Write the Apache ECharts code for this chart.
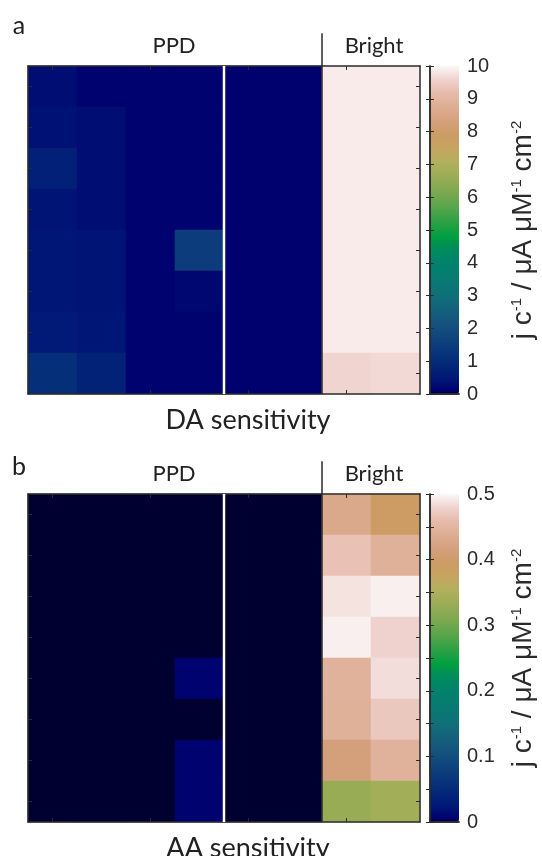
<!DOCTYPE html>
<html>
<head>
<meta charset="utf-8">
<script src="https://cdn.jsdelivr.net/npm/echarts@6/dist/echarts.min.js"></script>
<style>
  html, body { margin: 0; padding: 0; background: #fff; }
  #chart { width: 542px; height: 856px; }
</style>
</head>
<body>
<div id="chart"></div>
<script>
// categories
const colLabels = ['PPD 1', 'PPD 2', 'PPD 3', 'PPD 4', 'PPD 5', 'PPD 6', 'Bright 1', 'Bright 2']
const rowLabels = ['1', '2', '3', '4', '5', '6', '7', '8'] // top -> bottom

// DA sensitivity (rows top -> bottom)
const daPPD = [
  [0.30, 0.15, 0.15, 0.15, 0.10, 0.10],
  [0.35, 0.30, 0.15, 0.15, 0.10, 0.10],
  [0.70, 0.30, 0.15, 0.15, 0.10, 0.10],
  [0.40, 0.30, 0.15, 0.15, 0.10, 0.10],
  [0.45, 0.40, 0.15, 1.50, 0.10, 0.10],
  [0.45, 0.40, 0.15, 0.20, 0.10, 0.10],
  [0.55, 0.45, 0.15, 0.15, 0.10, 0.10],
  [1.10, 0.75, 0.15, 0.15, 0.10, 0.10]
]
const daBright = [
  [9.85, 9.85], [9.85, 9.85], [9.85, 9.85], [9.85, 9.85],
  [9.85, 9.85], [9.85, 9.85], [9.85, 9.85], [9.60, 9.65]
]

// AA sensitivity (rows top -> bottom)
const aaPPD = [
  [0, 0, 0, 0, 0, 0],
  [0, 0, 0, 0, 0, 0],
  [0, 0, 0, 0, 0, 0],
  [0, 0, 0, 0, 0, 0],
  [0, 0, 0, 0.006, 0, 0],
  [0, 0, 0, 0, 0, 0],
  [0, 0, 0, 0.006, 0, 0],
  [0, 0, 0, 0.006, 0, 0]
]
const aaBright = [
  [0.430, 0.395],
  [0.465, 0.443],
  [0.488, 0.495],
  [0.495, 0.478],
  [0.445, 0.485],
  [0.443, 0.470],
  [0.415, 0.445],
  [0.330, 0.340]
]

const daRange = [0, 10]
const aaRange = [0, 0.5]

// gist_earth-like colour map
const cmapStops = [
  [0.00, '#000030'], [0.010, '#00006e'], [0.04, '#001476'], [0.10, '#042c7a'],
  [0.15, '#0c3c7c'], [0.20, '#144e7e'], [0.25, '#145e7c'], [0.30, '#107078'],
  [0.35, '#087a72'], [0.40, '#00826c'], [0.45, '#008e58'], [0.48, '#00a040'],
  [0.52, '#28a044'], [0.56, '#50a448'], [0.61, '#78a850'], [0.66, '#98ac55'],
  [0.71, '#b4b05c'], [0.75, '#c6a460'], [0.79, '#cc9c64'], [0.83, '#d4a07c'],
  [0.87, '#dcac90'], [0.92, '#e6bcac'], [0.96, '#f0d4d0'], [1.00, '#fcf8f8']
]

function hexRgb (h) {
  return [1, 3, 5].map(i => parseInt(h.slice(i, i + 2), 16))
}
function cmapAt (t) {
  for (let i = 1; i < cmapStops.length; i++) {
    const [t1, c1] = cmapStops[i]
    const [t0, c0] = cmapStops[i - 1]
    if (t <= t1) {
      const f = (t - t0) / (t1 - t0)
      const a = hexRgb(c0)
      const b = hexRgb(c1)
      return 'rgb(' + a.map((v, k) => Math.round(v + (b[k] - v) * f)).join(',') + ')'
    }
  }
  return cmapStops[cmapStops.length - 1][1]
}
const cmapColors = []
for (let i = 0; i <= 400; i++) cmapColors.push(cmapAt(i / 400))

function heatData (ppd, bright) {
  const out = []
  rowLabels.forEach((r, ri) => {
    ppd[ri].concat(bright[ri]).forEach((v, ci) => {
      out.push([colLabels[ci], r, v])
    })
  })
  return out
}

const ink = '#2b2b2b'
const tickFont = '"Liberation Sans", Arial, sans-serif'
const textFont = 'Lato, "DejaVu Sans", sans-serif'

const grids = []
const xAxes = []
const yAxes = []
const series = []
const visualMaps = []

function addPanel (p) {
  const gHeat = grids.length
  grids.push({ left: 28, top: p.top, width: 392, height: p.height })
  const gBar = grids.length
  grids.push({ left: 430, top: p.top, width: 29, height: p.height })

  const catAxis = (pos) => ({
    gridIndex: gHeat,
    type: 'category',
    position: pos,
    z: 5,
    axisLine: { show: true, lineStyle: { color: ink, width: 1.5 } },
    axisTick: { show: true, inside: true, alignWithLabel: true, length: 4, lineStyle: { color: ink } },
    axisLabel: { show: false },
    splitLine: { show: false },
    splitArea: { show: false }
  })
  const xc = xAxes.length
  xAxes.push(Object.assign(catAxis('bottom'), { data: colLabels }))
  xAxes.push(Object.assign(catAxis('top'), { data: colLabels }))
  const xv = xAxes.length
  xAxes.push({ gridIndex: gHeat, type: 'value', min: 0, max: 8, show: false, splitLine: { show: false } })
  const yc = yAxes.length
  yAxes.push(Object.assign(catAxis('left'), { data: rowLabels.slice().reverse() }))
  yAxes.push(Object.assign(catAxis('right'), { data: rowLabels.slice().reverse() }))
  const yv = yAxes.length
  yAxes.push({ gridIndex: gHeat, type: 'value', min: 0, max: 8, show: false, splitLine: { show: false } })

  // colour bar frame + ticks
  const frameX = (pos) => ({
    gridIndex: gBar, type: 'value', min: 0, max: 1, position: pos, z: 5,
    axisLine: { show: true, lineStyle: { color: ink, width: 1.5 } },
    axisTick: { show: false }, axisLabel: { show: false }, splitLine: { show: false }
  })
  xAxes.push(frameX('bottom'))
  xAxes.push(frameX('top'))
  const barAxis = (pos) => ({
    gridIndex: gBar, type: 'value', min: p.range[0], max: p.range[1], interval: p.tickStep,
    position: pos, z: 5,
    axisLine: { show: true, lineStyle: { color: ink, width: 1.5 } },
    axisTick: { show: true, inside: true, length: 4, lineStyle: { color: ink } },
    splitLine: { show: false }
  })
  yAxes.push(Object.assign(barAxis('right'), {
    axisLabel: {
      show: true, margin: 8, color: ink, fontSize: 20, fontFamily: tickFont,
      formatter: p.labelFmt
    },
    name: 'j c{s|-1} / μA μM{s|-1} cm{s|-2}',
    nameLocation: 'middle',
    nameRotate: 90,
    nameGap: 50,
    nameTextStyle: {
      color: ink, fontSize: 28, fontFamily: tickFont,
      rich: { s: { fontSize: 15, fontFamily: tickFont, color: ink, verticalAlign: 'top' } }
    }
  }))
  yAxes.push(Object.assign(barAxis('left'), { axisLabel: { show: false } }))

  const sHeat = series.length
  series.push({
    type: 'heatmap',
    xAxisIndex: xc,
    yAxisIndex: yc,
    data: heatData(p.ppd, p.bright),
    itemStyle: { borderWidth: 0 },
    emphasis: { disabled: true },
    silent: true
  })
  // white separator inside PPD block
  series.push({
    type: 'line', xAxisIndex: xv, yAxisIndex: yv, symbol: 'none', silent: true, z: 6,
    data: [[4, 0], [4, 8]],
    lineStyle: { color: '#ffffff', width: 2.5 }
  })
  // PPD | Bright divider, running up into the header
  series.push({
    type: 'line', xAxisIndex: xv, yAxisIndex: yv, symbol: 'none', silent: true, z: 6, clip: false,
    data: [[6, 0], [6, 8.8]],
    lineStyle: { color: ink, width: 1.5 }
  })

  visualMaps.push({
    type: 'continuous',
    seriesIndex: sHeat,
    min: p.range[0],
    max: p.range[1],
    left: 430,
    top: p.top,
    itemWidth: 29,
    itemHeight: p.height,
    padding: 0,
    calculable: false,
    hoverLink: false,
    inRange: { color: cmapColors }
  })
}

addPanel({
  top: 66, height: 328, range: daRange, tickStep: 1,
  ppd: daPPD, bright: daBright,
  labelFmt: v => String(v)
})
addPanel({
  top: 494, height: 328, range: aaRange, tickStep: 0.05,
  ppd: aaPPD, bright: aaBright,
  labelFmt: v => (Math.round(v * 100) % 10 === 0 ? String(Math.round(v * 10) / 10) : '')
})

function label (text, x, y, size) {
  return {
    type: 'text', x: x, y: y, silent: true, z: 10,
    style: {
      text: text, fill: '#222', font: size + 'px ' + textFont,
      textAlign: 'center', textVerticalAlign: 'middle', align: 'center', verticalAlign: 'middle'
    }
  }
}

const chart = echarts.init(document.getElementById('chart'), null, { renderer: 'canvas' })
chart.setOption({
  animation: false,
  backgroundColor: '#ffffff',
  grid: grids,
  xAxis: xAxes,
  yAxis: yAxes,
  visualMap: visualMaps,
  series: series,
  graphic: [
    label('a', 19, 26, 25),
    label('PPD', 174, 46, 22),
    label('Bright', 374, 46, 22),
    label('DA sensitivity', 248, 420, 27),
    label('b', 19, 467, 25),
    label('PPD', 174, 474, 22),
    label('Bright', 374, 474, 22),
    label('AA sensitivity', 248, 848, 27)
  ]
})
</script>
</body>
</html>
